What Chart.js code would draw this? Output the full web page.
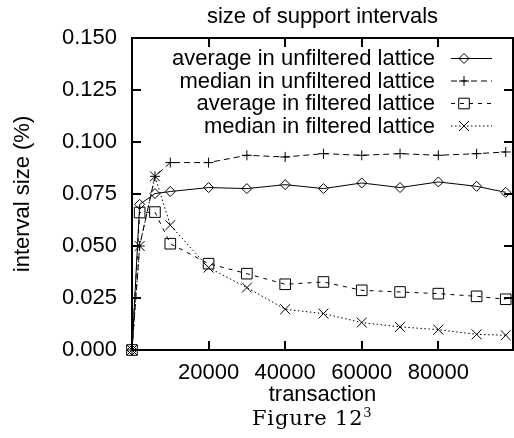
<!DOCTYPE html>
<html lang="en">
<head>
<meta charset="UTF-8">
<title>size of support intervals</title>
<script src="https://cdn.jsdelivr.net/npm/chart.js@4.4.1/dist/chart.umd.min.js"></script>
<style>
    html, body { margin: 0; padding: 0; background: #fff; overflow: hidden; }
    #wrap { position: relative; width: 514px; height: 438px; }
    #chart { display: block; }
    #caption {
        position: absolute; left: 252px; top: 406px;
        font-family: "DejaVu Serif", "Liberation Serif", serif;
        font-size: 21px; letter-spacing: 0.8px; line-height: 24px; color: #000; white-space: nowrap;
    }
    #caption sup { font-size: 13px; letter-spacing: 0; line-height: 0; vertical-align: 8px; }
</style>
</head>
<body>
<div id="wrap">
    <canvas id="chart" width="514" height="438"></canvas>
    <div id="caption">Figure 12<sup>3</sup></div>
</div>
<script>
    // values
    var transactions = [0, 2000, 6000, 10000, 20000, 30000, 40000, 50000, 60000, 70000, 80000, 90000, 97600];
    var avgUnfiltered = [0, 0.0700, 0.0752, 0.0762, 0.0781, 0.0776, 0.0795, 0.0776, 0.0803, 0.0781, 0.0808, 0.0787, 0.0758];
    var medUnfiltered = [0, 0.0500, 0.0835, 0.0901, 0.0901, 0.0936, 0.0928, 0.0944, 0.0936, 0.0944, 0.0936, 0.0944, 0.0952];
    var avgFiltered = [0, 0.0661, 0.0663, 0.0511, 0.0415, 0.0367, 0.0316, 0.0327, 0.0287, 0.0279, 0.0271, 0.0258, 0.0244];
    var medFiltered = [0, 0.0500, 0.0835, 0.0600, 0.0396, 0.0300, 0.0196, 0.0175, 0.0132, 0.0111, 0.0098, 0.0075, 0.0071];
    var xTicks = [20000, 40000, 60000, 80000];
    var yTicks = [0, 0.025, 0.05, 0.075, 0.1, 0.125, 0.15];

    var sansFont = "'Liberation Sans', Arial, Helvetica, sans-serif";
    Chart.defaults.font.family = sansFont;
    Chart.defaults.font.size = 22;
    Chart.defaults.color = '#000';

    function points(ys) {
        return transactions.map(function (x, i) { return { x: x, y: ys[i] }; });
    }

    function series(label, ys, dash, style, radius) {
        return {
            label: label,
            data: points(ys),
            borderColor: '#000',
            borderWidth: 1,
            borderDash: dash,
            pointStyle: style,
            pointRadius: radius,
            pointBorderColor: '#000',
            pointBackgroundColor: 'rgba(0,0,0,0)',
            pointBorderWidth: 1,
            fill: false,
            tension: 0,
            clip: false
        };
    }

    // gnuplot-like frame with inward ticks, plus the key inside the plot
    var frameAndKey = {
        id: 'frameAndKey',
        afterDraw: function (chart) {
            var ctx = chart.ctx;
            var a = chart.chartArea;
            var xs = chart.scales.x;
            var ys = chart.scales.y;
            ctx.save();
            ctx.strokeStyle = '#000';
            ctx.lineWidth = 2;
            ctx.setLineDash([]);
            ctx.strokeRect(a.left, a.top, a.right - a.left, a.bottom - a.top);
            ctx.beginPath();
            xTicks.forEach(function (v) {
                var px = Math.round(xs.getPixelForValue(v));
                ctx.moveTo(px, a.bottom); ctx.lineTo(px, a.bottom - 9);
                ctx.moveTo(px, a.top); ctx.lineTo(px, a.top + 9);
            });
            yTicks.forEach(function (v) {
                var py = Math.round(ys.getPixelForValue(v));
                ctx.moveTo(a.left, py); ctx.lineTo(a.left + 9, py);
                ctx.moveTo(a.right, py); ctx.lineTo(a.right - 9, py);
            });
            ctx.stroke();

            // key
            var textRight = a.right - 78;
            var lineStart = a.right - 62;
            var lineEnd = a.right - 21;
            var markX = a.right - 49;
            ctx.font = '22px ' + sansFont;
            ctx.textAlign = 'right';
            ctx.textBaseline = 'middle';
            chart.data.datasets.forEach(function (ds, i) {
                var y = a.top + 20 + i * 22.5;
                ctx.fillStyle = '#000';
                ctx.fillText(ds.label, textRight, y + 1);
                ctx.lineWidth = 1;
                ctx.setLineDash(ds.borderDash || []);
                ctx.beginPath();
                ctx.moveTo(lineStart, y + 0.5);
                ctx.lineTo(lineEnd, y + 0.5);
                ctx.stroke();
                ctx.setLineDash([]);
                ctx.fillStyle = 'rgba(0,0,0,0)';
                Chart.helpers.drawPoint(ctx, {
                    pointStyle: ds.pointStyle,
                    radius: ds.pointRadius,
                    borderWidth: 1,
                    rotation: 0
                }, markX, y + 0.5);
            });
            ctx.restore();
        }
    };

    var chart = new Chart(document.getElementById('chart').getContext('2d'), {
        type: 'line',
        data: {
            datasets: [
                series('average in unfiltered lattice', avgUnfiltered, [], 'rectRot', 5),
                series('median in unfiltered lattice', medUnfiltered, [6, 4], 'cross', 5),
                series('average in filtered lattice', avgFiltered, [4, 5], 'rect', 7.5),
                series('median in filtered lattice', medFiltered, [1.5, 2.5], 'crossRot', 7)
            ]
        },
        options: {
            responsive: false,
            animation: false,
            events: [],
            layout: { autoPadding: false, padding: { left: 0, right: 1, top: 0, bottom: 30 } },
            plugins: {
                legend: { display: false },
                tooltip: { enabled: false },
                title: {
                    display: true,
                    text: 'size of support intervals',
                    fullSize: false,
                    font: { size: 22, weight: 'normal' },
                    padding: { top: 4, bottom: 7.6 }
                }
            },
            scales: {
                x: {
                    type: 'linear',
                    min: 0,
                    max: 99500,
                    grid: { display: false, drawTicks: false },
                    border: { display: false },
                    afterBuildTicks: function (s) {
                        s.ticks = xTicks.map(function (v) { return { value: v }; });
                    },
                    ticks: {
                        padding: 9.5, maxRotation: 0, autoSkip: false,
                        callback: function (v) { return String(v); }
                    },
                    title: { display: true, text: 'transaction', padding: { top: 0, bottom: 0 } },
                    afterFit: function (s) { s.height = 58; }
                },
                y: {
                    min: 0,
                    max: 0.15,
                    grid: { display: false, drawTicks: false },
                    border: { display: false },
                    afterBuildTicks: function (s) {
                        s.ticks = yTicks.map(function (v) { return { value: v }; });
                    },
                    ticks: {
                        padding: 15,
                        callback: function (v) { return Number(v).toFixed(3); }
                    },
                    title: { display: true, text: 'interval size (%)', padding: { top: 10, bottom: 0 } },
                    afterFit: function (s) { s.width = 132; }
                }
            }
        },
        plugins: [frameAndKey]
    });
</script>
</body>
</html>
